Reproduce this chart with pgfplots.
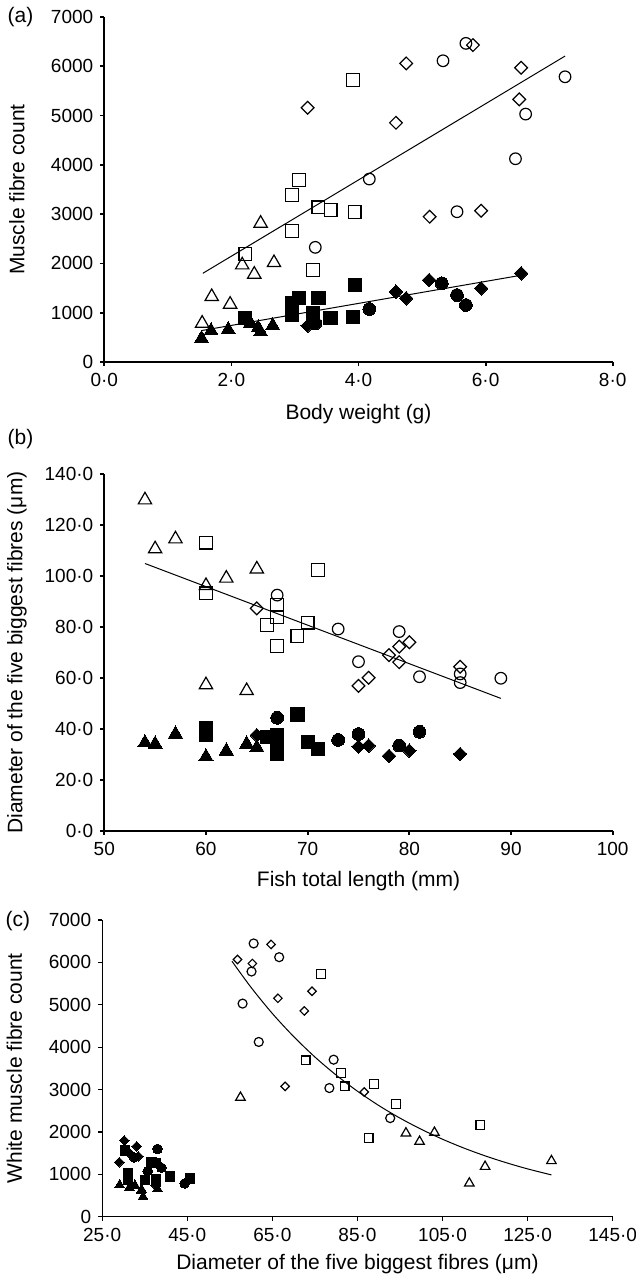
\documentclass[border=0pt]{standalone}
\usepackage{fontspec}
\setmainfont{Liberation Sans}
\usepackage{pgfplots}
\pgfplotsset{compat=1.18}
\pgfplotsset{
  myax/.style={
    scale only axis,
    axis x line*=bottom, axis y line*=left,
    axis line style={-, line width=0.9pt, black},
    tick align=outside,
    major tick length=2pt,
    every tick/.style={black, line width=0.9pt},
    tick label style={font=\fontsize{9.5}{11}\selectfont, black},
    label style={font=\fontsize{10.5}{12}\selectfont, black},
    clip=false,
  },
  osq/.style={black, only marks, mark=square, mark size=#1, mark options={line width=0.6pt}},
  fsq/.style={black, only marks, mark=square*, mark size=#1, mark options={line width=0pt, fill=black}},
  oci/.style={black, only marks, mark=o, mark size=#1, mark options={line width=0.6pt}},
  fci/.style={black, only marks, mark=*, mark size=#1, mark options={line width=0pt, fill=black}},
  otr/.style={black, only marks, mark=triangle, mark size=#1, mark options={line width=0.6pt}},
  ftr/.style={black, only marks, mark=triangle*, mark size=#1, mark options={line width=0pt, fill=black}},
  odi/.style={black, only marks, mark=square, mark size=#1, mark options={line width=0.6pt, rotate=45}},
  fdi/.style={black, only marks, mark=square*, mark size=#1, mark options={line width=0pt, fill=black, rotate=45}},
  fitl/.style={black, line width=0.5pt, mark=none},
}
\begin{document}
\begin{tikzpicture}[x=1pt,y=1pt]
\path[use as bounding box] (0,0) rectangle (318,639.5);
% ---------------- (a)
\begin{axis}[myax,
  at={(52.15pt,458.5pt)}, anchor=south west,
  width=254.2pt, height=172.5pt,
  xmin=0, xmax=8, ymin=0, ymax=7000,
  xtick={0,2,4,6,8}, xticklabels={0·0,2·0,4·0,6·0,8·0},
  ytick={0,1000,2000,3000,4000,5000,6000,7000},
  yticklabels={0,1000,2000,3000,4000,5000,6000,7000},
  xlabel={Body weight (g)}, ylabel={Muscle fibre count},
  xlabel style={at={(axis description cs:0.5,-0.152)}, anchor=center},
  ylabel style={at={(axis description cs:-0.172,0.5)}, anchor=center},
]
\addplot[fitl] coordinates {(1.55,1799) (7.25,6207)};
\addplot[fitl] coordinates {(1.54,640) (6.56,1760)};
\addplot[otr=3.85pt] coordinates {(1.54,785) (1.69,1325) (1.98,1170) (2.17,1967) (2.36,1779) (2.46,2813) (2.67,2014)};
\addplot[ftr=4pt] coordinates {(1.53,480) (1.68,635) (1.95,660) (2.30,790) (2.42,690) (2.46,610) (2.65,740)};
\addplot[osq=3.2pt] coordinates {(2.22,2191) (2.95,3387) (2.95,2663) (3.06,3692) (3.28,1866) (3.37,3138) (3.56,3083) (3.91,5720) (3.94,3049)};
\addplot[fsq=3.3pt] coordinates {(2.22,886) (2.95,1190) (2.95,953) (3.06,1292) (3.28,987) (3.37,1292) (3.56,886) (3.94,1562) (3.91,919)};
\addplot[oci=2.9pt] coordinates {(3.32,2326) (4.17,3712) (5.33,6112) (5.55,3049) (5.69,6465) (6.47,4124) (6.63,5030) (7.25,5787)};
\addplot[fci=3.2pt] coordinates {(3.32,785) (4.17,1075) (5.31,1596) (5.55,1359) (5.69,1156)};
\addplot[odi=2.25pt] coordinates {(3.20,5158) (4.59,4854) (4.75,6059) (5.12,2948) (5.80,6430) (5.93,3069) (6.53,5329) (6.56,5970)};
\addplot[fdi=2.4pt] coordinates {(3.20,737) (4.59,1426) (4.75,1292) (5.11,1663) (5.93,1495) (6.56,1799)};
\node[font=\fontsize{10.5}{12}\selectfont, anchor=center] at (axis description cs:-0.165,1.0) {(a)};
\end{axis}
% ---------------- (b)
\begin{axis}[myax,
  at={(52.15pt,224pt)}, anchor=south west,
  width=254.2pt, height=178.5pt,
  xmin=50, xmax=100, ymin=0, ymax=140,
  xtick={50,60,70,80,90,100}, xticklabels={50,60,70,80,90,100},
  ytick={0,20,40,60,80,100,120,140},
  yticklabels={0·0,20·0,40·0,60·0,80·0,100·0,120·0,140·0},
  xlabel={Fish total length (mm)}, ylabel={Diameter of the five biggest fibres (μm)},
  xlabel style={at={(axis description cs:0.5,-0.14)}, anchor=center},
  ylabel style={at={(axis description cs:-0.172,0.5)}, anchor=center},
]
\addplot[fitl] coordinates {(54,104.9) (89,52.0)};
\addplot[otr=3.85pt] coordinates {(54,129.8) (55,110.6) (57,114.5) (60,96.2) (62,99.1) (65,102.7) (60,57.3) (64,55.0)};
\addplot[osq=3.2pt] coordinates {(60,113.1) (60,93.2) (71,102.4) (67,88.6) (67,84.0) (66,80.8) (67,72.5) (69,76.5) (70,81.7)};
\addplot[oci=2.9pt] coordinates {(67,92.5) (73,79.2) (79,78.2) (75,66.4) (81,60.5) (85,61.6) (85,58.2) (89,59.9)};
\addplot[odi=2.25pt] coordinates {(65,87.3) (75,56.9) (76,60.1) (78,69.0) (79,72.3) (80,74.0) (79,66.2) (85,64.4)};
\addplot[ftr=4.1pt] coordinates {(54,34.6) (55,34.1) (57,38.0) (60,29.1) (62,31.4) (64,34.1) (65,32.7)};
\addplot[fsq=3.3pt] coordinates {(60,40.3) (60,37.6) (66,37.0) (67,37.6) (67,33.1) (67,30.4) (69,45.7) (70,35.0) (71,32.2)};
\addplot[fci=3.2pt] coordinates {(67,44.4) (73,35.7) (75,38.0) (79,33.5) (81,38.9)};
\addplot[fdi=2.4pt] coordinates {(65,37.6) (75,33.1) (76,33.5) (78,29.4) (80,31.5) (85,30.2)};
\node[font=\fontsize{10.5}{12}\selectfont, anchor=center] at (axis description cs:-0.165,1.098) {(b)};
\end{axis}
% ---------------- (c)
\begin{axis}[myax,
  axis line style={-, line width=0.6pt, black},
  every tick/.style={black, line width=0.6pt},
  at={(51.1pt,31.15pt)}, anchor=south west,
  width=255.25pt, height=148.35pt,
  xmin=25, xmax=145, ymin=0, ymax=7000,
  xtick={25,45,65,85,105,125,145}, xticklabels={25·0,45·0,65·0,85·0,105·0,125·0,145·0},
  ytick={0,1000,2000,3000,4000,5000,6000,7000},
  yticklabels={0,1000,2000,3000,4000,5000,6000,7000},
  xlabel={Diameter of the five biggest fibres (μm)}, ylabel={White muscle fibre count},
  xlabel style={at={(axis description cs:0.5,-0.16)}, anchor=center},
  ylabel style={at={(axis description cs:-0.172,0.5)}, anchor=center},
]
\addplot[fitl, smooth] coordinates {(55.5,6028) (60,5409) (65,4794) (70,4251) (75,3768) (80,3341) (85,2961) (90,2624) (95,2326) (100,2062) (105,1828) (110,1620) (115,1436) (120,1273) (125,1128) (130.6,986)};
\addplot[oci=2.25pt] coordinates {(60.6,6447) (66.6,6123) (60.1,5785) (58.0,5028) (61.8,4123) (79.4,3705) (78.4,3035) (92.7,2326)};
\addplot[odi=1.5pt] coordinates {(56.8,6069) (60.3,5974) (64.7,6423) (66.3,5154) (74.3,5319) (72.5,4856) (68.0,3073) (86.6,2941)};
\addplot[osq=2.2pt] coordinates {(76.4,5721) (72.8,3688) (81.2,3390) (82.0,3073) (88.9,3137) (94.1,2664) (87.6,1853) (113.9,2168)};
\addplot[otr=2.75pt] coordinates {(57.5,2813) (96.4,1971) (99.6,1773) (103.1,1986) (111.3,789) (115.0,1182) (130.6,1317)};
\addplot[ftr=2.8pt] coordinates {(29.1,749) (31.4,690) (32.7,740) (34.1,610) (34.6,473) (34.3,635) (38.0,660)};
\addplot[fsq=2.3pt] coordinates {(30.4,1562) (31.1,1030) (31.1,870) (36.6,1300) (37.6,1260) (37.6,880) (35.0,870) (40.9,950) (45.7,900)};
\addplot[fci=2.4pt] coordinates {(44.4,785) (35.7,1075) (38.0,1600) (32.5,1400) (38.9,1156)};
\addplot[fdi=1.7pt] coordinates {(30.2,1799) (33.1,1663) (29.0,1286) (31.5,1495) (33.5,1426) (37.6,737)};
\node[font=\fontsize{10.5}{12}\selectfont, anchor=center] at (axis description cs:-0.165,0.997) {(c)};
\end{axis}
\end{tikzpicture}
\end{document}
